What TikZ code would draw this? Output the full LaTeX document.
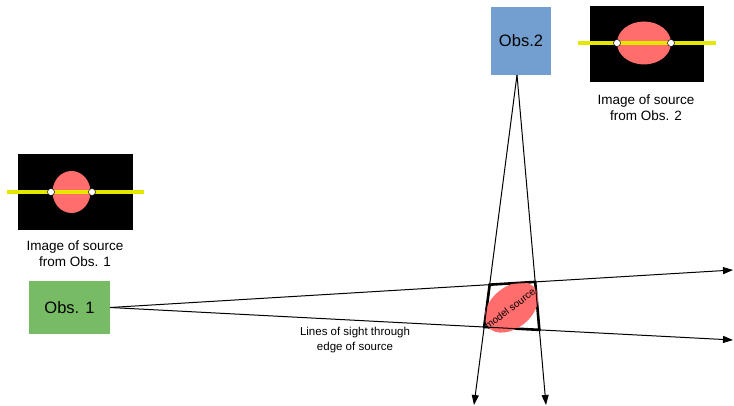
\documentclass[tikz,border=0pt]{standalone}
\usepackage{fontspec}
\setmainfont{Liberation Sans}
\usetikzlibrary{arrows.meta,shapes.geometric}
\definecolor{obsgreen}{HTML}{77BC65}
\definecolor{obsblue}{HTML}{729FCF}
\definecolor{srcred}{HTML}{FF6D6D}
\definecolor{cutyellow}{HTML}{E6E600}
\tikzset{
  obsbox/.style={draw=none, inner sep=0pt, font=\fontsize{16.5}{19}\selectfont},
  skyimg/.style={fill=black, draw=none, inner sep=0pt},
  blob/.style={ellipse, fill=srcred, draw=none, inner sep=0pt},
  cutline/.style={draw=cutyellow, line width=3.5pt},
  edgedot/.style={circle, fill=white, draw=black, line width=0.5pt, minimum size=7pt, inner sep=0pt},
  caption/.style={align=center, font=\fontsize{13.5}{16}\selectfont},
  sight/.style={draw=black, line width=1pt, -{Triangle[length=10pt,width=7pt]}},
}
\begin{document}
\begin{tikzpicture}[x=1pt,y=-1pt]
\useasboundingbox (0,0) rectangle (734,406);

% observers
\node[obsbox, fill=obsgreen, minimum width=81pt, minimum height=53pt] (obs1) at (69.5,307.5) {Obs. 1};
\node[obsbox, fill=obsblue, minimum width=60pt, minimum height=68pt] (obs2) at (521,41) {Obs.2};
\coordinate (o2) at (517,75);

% far ends of the lines of sight
\coordinate (e1) at (733,270);
\coordinate (e2) at (733,340);
\coordinate (e3) at (474,405);
\coordinate (e4) at (546,405);

% corners of the region bounded by the four lines
\coordinate (q1) at (intersection of obs1.east--e1 and o2--e3);
\coordinate (q2) at (intersection of obs1.east--e1 and o2--e4);
\coordinate (q3) at (intersection of obs1.east--e2 and o2--e4);
\coordinate (q4) at (intersection of obs1.east--e2 and o2--e3);
\draw[line width=2.6pt, line join=miter] (q1) -- (q2) -- (q3) -- (q4) -- cycle;

% the source, tilted inside that region
\coordinate (srcc) at (511.5,307.5);
\fill[srcred, rotate around={40:(srcc)}] (srcc) ellipse [x radius=30.5, y radius=20.5];
\node[rotate=37, inner sep=0pt, font=\fontsize{10}{11}\selectfont] (src) at (510,308.5) {model source};

% lines of sight
\draw[sight] (obs1.east) -- (e1);
\draw[sight] (obs1.east) -- (e2);
\draw[sight] (o2) -- (e3);
\draw[sight] (o2) -- (e4);

\node[align=center, font=\fontsize{11.5}{15}\selectfont] (los) at (355,340) {Lines of sight through\\edge of source};

% image seen by observer 2
\node[skyimg, minimum width=114pt, minimum height=76pt] (img2) at (647,44) {};
\node[blob, minimum width=54pt, minimum height=43pt] (img2src) at (644,43) {};
\coordinate (c2a) at (578,43);
\coordinate (c2b) at (716,43);
\draw[cutline] (c2a) -- (c2b);
\node[edgedot] (d2a) at (617,43) {};
\node[edgedot] (d2b) at (671,43) {};
\node[caption] (cap2) at (646,107.5) {Image of source\\from Obs. 2};

% image seen by observer 1
\node[skyimg, minimum width=115pt, minimum height=76pt] (img1) at (75.5,192) {};
\node[blob, minimum width=38pt, minimum height=42pt] (img1src) at (71.5,192) {};
\coordinate (c1a) at (7,192);
\coordinate (c1b) at (144,192);
\draw[cutline] (c1a) -- (c1b);
\node[edgedot] (d1a) at (51,192) {};
\node[edgedot] (d1b) at (92,192) {};
\node[caption] (cap1) at (75,254) {Image of source\\from Obs. 1};
\end{tikzpicture}
\end{document}
